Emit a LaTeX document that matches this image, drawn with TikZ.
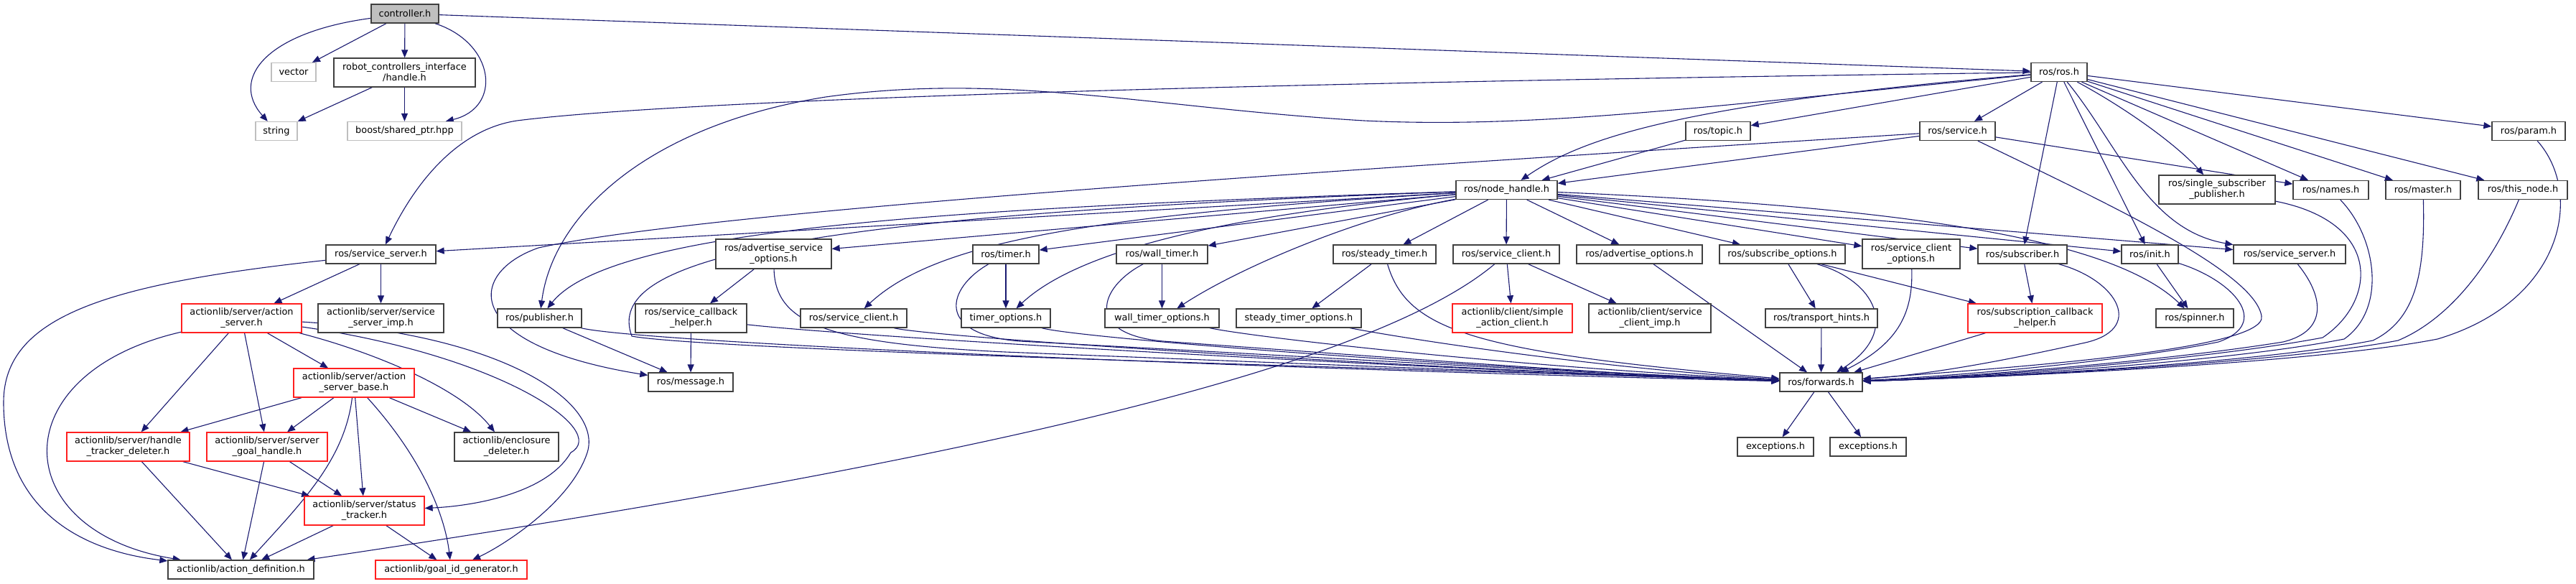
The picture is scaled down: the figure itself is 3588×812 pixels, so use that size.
\documentclass[tikz,border=0pt]{standalone}
\usepackage{fontspec}
\setmainfont{DejaVu Sans}
\usetikzlibrary{arrows.meta}
\definecolor{edgeblue}{HTML}{191970}
\definecolor{boxline}{HTML}{404040}
\definecolor{rootfill}{HTML}{BFBFBF}
\definecolor{extline}{HTML}{BFBFBF}
\definecolor{truncline}{HTML}{FF2020}
\pgfdeclarelayer{edges}
\pgfsetlayers{edges,main}
\begin{document}
\begin{tikzpicture}[x=1pt,y=-1pt]
\useasboundingbox (0,0) rectangle (3588,812);

\tikzstyle{hdr} = [draw=boxline, shape=rectangle, line width=1.3pt, fill=white, minimum height=26pt, inner sep=2pt, align=center, font=\fontsize{12.9}{15}\selectfont]
\tikzstyle{root} = [hdr, fill=rootfill]
\tikzstyle{ext} = [hdr, draw=extline]
\tikzstyle{trunc} = [hdr, draw=truncline]
\tikzstyle{dep} = [edgeblue, line width=1.1pt, -{Triangle[length=11pt,width=9pt]}]

% top rows
\node at (564,19) [root, minimum width=94pt] (controller) {controller.h};
\node at (409,100.5) [ext, minimum width=62pt] (vector) {vector};
\node at (563.5,101) [hdr, minimum width=197pt, minimum height=40pt] (rcihandle) {robot\_controllers\_interface\\/handle.h};
\node at (385,182.5) [ext, minimum width=58pt] (string) {string};
\node at (563.5,182.5) [ext, minimum width=159pt] (sharedptr) {boost/shared\_ptr.hpp};
\node at (2868,100.5) [hdr, minimum width=78pt] (ros) {ros/ros.h};
\node at (2393,182.5) [hdr, minimum width=90pt] (topic) {ros/topic.h};
\node at (2726.5,182.5) [hdr, minimum width=105pt] (service) {ros/service.h};
\node at (3522,182.5) [hdr, minimum width=102pt] (param) {ros/param.h};
\node at (2098.5,264.5) [hdr, minimum width=141pt] (nodehandle) {ros/node\_handle.h};
\node at (3088,264) [hdr, minimum width=162pt, minimum height=40pt] (singlesub) {ros/single\_subscriber\\\_publisher.h};
\node at (3246.5,264.5) [hdr, minimum width=105pt] (names) {ros/names.h};
\node at (3375,264.5) [hdr, minimum width=104pt] (master) {ros/master.h};
\node at (3514,264.5) [hdr, minimum width=124pt] (thisnode) {ros/this\_node.h};

% headers under node_handle
\node at (530.5,354) [hdr, minimum width=153pt] (srvserverA) {ros/service\_server.h};
\node at (1077.5,353.5) [hdr, minimum width=161pt, minimum height=41pt] (advsrvopts) {ros/advertise\_service\\\_options.h};
\node at (1401,354) [hdr, minimum width=92pt] (timer) {ros/timer.h};
\node at (1618.5,354) [hdr, minimum width=127pt] (walltimer) {ros/wall\_timer.h};
\node at (1928.5,354) [hdr, minimum width=143pt] (steadytimer) {ros/steady\_timer.h};
\node at (2098,354) [hdr, minimum width=148pt] (srvclientA) {ros/service\_client.h};
\node at (2283.5,354) [hdr, minimum width=175pt] (advopts) {ros/advertise\_options.h};
\node at (2482.5,354) [hdr, minimum width=175pt] (subopts) {ros/subscribe\_options.h};
\node at (2662,353.5) [hdr, minimum width=136pt, minimum height=41pt] (srvclientopts) {ros/service\_client\\\_options.h};
\node at (2817,354) [hdr, minimum width=124pt] (subscriber) {ros/subscriber.h};
\node at (2994.5,354) [hdr, minimum width=79pt] (init) {ros/init.h};
\node at (3189,354) [hdr, minimum width=156pt] (srvserverB) {ros/service\_server.h};

\node at (336.5,443) [trunc, minimum width=167pt, minimum height=40pt] (actionserver) {actionlib/server/action\\\_server.h};
\node at (530.5,443) [hdr, minimum width=175pt, minimum height=40pt] (srvserverimp) {actionlib/server/service\\\_server\_imp.h};
\node at (751.5,443) [hdr, minimum width=117pt] (publisher) {ros/publisher.h};
\node at (962.5,443) [hdr, minimum width=155pt, minimum height=40pt] (srvcbhelper) {ros/service\_callback\\\_helper.h};
\node at (1189,443) [hdr, minimum width=148pt] (srvclientB) {ros/service\_client.h};
\node at (1401,443) [hdr, minimum width=124pt] (timeropts) {timer\_options.h};
\node at (1618.5,443) [hdr, minimum width=159pt] (walltimeropts) {wall\_timer\_options.h};
\node at (1809,443) [hdr, minimum width=174pt] (steadytimeropts) {steady\_timer\_options.h};
\node at (2106.5,443) [trunc, minimum width=167pt, minimum height=40pt] (simpleclient) {actionlib/client/simple\\\_action\_client.h};
\node at (2298,443) [hdr, minimum width=170pt, minimum height=40pt] (clientimp) {actionlib/client/service\\\_client\_imp.h};
\node at (2537,443) [hdr, minimum width=156pt] (transport) {ros/transport\_hints.h};
\node at (2834.5,443) [trunc, minimum width=187pt, minimum height=40pt] (subcbhelper) {ros/subscription\_callback\\\_helper.h};
\node at (3057,443) [hdr, minimum width=108pt] (spinner) {ros/spinner.h};

\node at (493,533) [trunc, minimum width=168pt, minimum height=40pt] (actionserverbase) {actionlib/server/action\\\_server\_base.h};
\node at (962,532) [hdr, minimum width=118pt] (message) {ros/message.h};
\node at (2536.5,532) [hdr, minimum width=115pt] (forwards) {ros/forwards.h};

\node at (178.5,622) [trunc, minimum width=171pt, minimum height=40pt] (trackerdeleter) {actionlib/server/handle\\\_tracker\_deleter.h};
\node at (372,622) [trunc, minimum width=168pt, minimum height=40pt] (goalhandle) {actionlib/server/server\\\_goal\_handle.h};
\node at (705.5,622) [hdr, minimum width=145pt, minimum height=40pt] (enclosure) {actionlib/enclosure\\\_deleter.h};
\node at (2473,622) [hdr, minimum width=106pt] (exceptionsA) {exceptions.h};
\node at (2602,622) [hdr, minimum width=106pt] (exceptionsB) {exceptions.h};
\node at (507.5,711) [trunc, minimum width=167pt, minimum height=40pt] (statustracker) {actionlib/server/status\\\_tracker.h};
\node at (335.5,793) [hdr, minimum width=203pt] (actiondef) {actionlib/action\_definition.h};
\node at (628.5,793) [trunc, minimum width=211pt] (goalid) {actionlib/goal\_id\_generator.h};

\begin{pgfonlayer}{edges}
\fill[white] (0,0) rectangle (3588,812);

% controller.h
\draw[dep] (controller) .. controls (370,45) and (320,110) .. (string);
\draw[dep] (controller) -- (vector);
\draw[dep] (controller) -- (rcihandle);
\draw[dep] (controller) .. controls (690,60) and (700,150) .. (sharedptr);
\draw[dep] (controller) -- (ros);
\draw[dep] (rcihandle) -- (string);
\draw[dep] (rcihandle) -- (sharedptr);

% ros.h
\draw[dep] (ros) .. controls (1500,118) and (900,145) .. (720,168) .. controls (640,180) and (580,250) .. (srvserverA);
\draw[dep] (ros) .. controls (2400,145) and (2150,180) .. (1900,168) .. controls (1600,150) and (1400,100) .. (1150,135) .. controls (900,175) and (770,300) .. (publisher);
\draw[dep] (ros) -- (topic);
\draw[dep] (ros) .. controls (2330,145) and (2200,195) .. (nodehandle);
\draw[dep] (ros) -- (service);
\draw[dep] (ros) -- (subscriber);
\draw[dep] (ros) -- (init);
\draw[dep] (ros) .. controls (2960,150) and (3030,200) .. (singlesub);
\draw[dep] (ros) -- (names);
\draw[dep] (ros) -- (master);
\draw[dep] (ros) -- (thisnode);
\draw[dep] (ros) -- (param);
\draw[dep] (ros) .. controls (2950,200) and (2990,320) .. (srvserverB);
\draw[dep] (topic) -- (nodehandle);
\draw[dep] (service) -- (nodehandle);
\draw[dep] (service) -- (names);
\draw[dep] (service) .. controls (2950,290) and (3140,380) .. (3150,440) .. controls (3160,490) and (2750,515) .. (forwards);
\draw[dep] (service) .. controls (2000,228) and (1000,290) .. (750,345) .. controls (650,380) and (640,480) .. (message);

% node_handle.h
\draw[dep] (nodehandle) -- (srvserverA);
\draw[dep] (nodehandle) .. controls (1300,290) and (850,320) .. (publisher);
\draw[dep] (nodehandle) -- (advsrvopts);
\draw[dep] (nodehandle) .. controls (1500,300) and (1300,340) .. (srvclientB);
\draw[dep] (nodehandle) -- (timer);
\draw[dep] (nodehandle) .. controls (1700,300) and (1500,350) .. (timeropts);
\draw[dep] (nodehandle) -- (walltimer);
\draw[dep] (nodehandle) .. controls (1900,300) and (1730,370) .. (walltimeropts);
\draw[dep] (nodehandle) -- (steadytimer);
\draw[dep] (nodehandle) -- (srvclientA);
\draw[dep] (nodehandle) -- (advopts);
\draw[dep] (nodehandle) -- (subopts);
\draw[dep] (nodehandle) -- (srvclientopts);
\draw[dep] (nodehandle) -- (subscriber);
\draw[dep] (nodehandle) -- (init);
\draw[dep] (nodehandle) -- (srvserverB);
\draw[dep] (nodehandle) .. controls (2700,290) and (2950,340) .. (spinner);
\draw[dep] (nodehandle) .. controls (1100,300) and (840,360) .. (880,468) .. controls (1000,490) and (2200,520) .. (forwards);

% down to ros/forwards.h
\draw[dep] (advsrvopts) -- (srvcbhelper);
\draw[dep] (advsrvopts) .. controls (1080,450) and (1150,478) .. (1400,490) .. controls (1900,510) and (2300,525) .. (forwards);
\draw[dep] (publisher) -- (message);
\draw[dep] (publisher) .. controls (900,478) and (1800,515) .. (forwards);
\draw[dep] (srvcbhelper) -- (message);
\draw[dep] (srvcbhelper) .. controls (1200,470) and (2000,515) .. (forwards);
\draw[dep] (srvclientB) .. controls (1300,470) and (2000,515) .. (forwards);
\draw[dep] (timer) -- (timeropts);
\draw[dep] (timer) .. controls (1320,400) and (1300,465) .. (1420,475) .. controls (1800,495) and (2300,525) .. (forwards);
\draw[dep] (timeropts) .. controls (1500,470) and (2000,510) .. (forwards);
\draw[dep] (walltimer) -- (walltimeropts);
\draw[dep] (walltimer) .. controls (1530,400) and (1510,465) .. (1620,475) .. controls (1900,495) and (2300,525) .. (forwards);
\draw[dep] (walltimeropts) .. controls (1750,470) and (2100,510) .. (forwards);
\draw[dep] (steadytimer) -- (steadytimeropts);
\draw[dep] (steadytimer) .. controls (1960,460) and (2050,490) .. (forwards);
\draw[dep] (steadytimeropts) .. controls (1950,470) and (2200,510) .. (forwards);
\draw[dep] (srvclientA) -- (simpleclient);
\draw[dep] (srvclientA) -- (clientimp);
\draw[dep] (srvclientA) .. controls (1900,520) and (1300,650) .. (actiondef);
\draw[dep] (advopts) -- (forwards);
\draw[dep] (subopts) -- (transport);
\draw[dep] (subopts) -- (subcbhelper);
\draw[dep] (subopts) .. controls (2610,390) and (2650,460) .. (forwards);
\draw[dep] (srvclientopts) .. controls (2665,440) and (2640,480) .. (forwards);
\draw[dep] (subscriber) -- (subcbhelper);
\draw[dep] (subscriber) .. controls (2950,390) and (2990,460) .. (2900,478) .. controls (2800,500) and (2700,520) .. (forwards);
\draw[dep] (subcbhelper) -- (forwards);
\draw[dep] (transport) -- (forwards);
\draw[dep] (forwards) -- (exceptionsA);
\draw[dep] (forwards) -- (exceptionsB);
\draw[dep] (init) -- (spinner);
\draw[dep] (init) .. controls (3110,390) and (3165,450) .. (3090,476) .. controls (2950,505) and (2700,525) .. (forwards);
\draw[dep] (srvserverB) .. controls (3235,410) and (3245,460) .. (3180,476) .. controls (3000,505) and (2700,527) .. (forwards);
\draw[dep] (singlesub) .. controls (3320,310) and (3310,420) .. (3235,470) .. controls (3050,505) and (2700,528) .. (forwards);
\draw[dep] (names) .. controls (3310,330) and (3325,430) .. (3265,472) .. controls (3080,508) and (2700,528) .. (forwards);
\draw[dep] (master) .. controls (3378,380) and (3365,445) .. (3305,474) .. controls (3120,510) and (2700,528) .. (forwards);
\draw[dep] (thisnode) .. controls (3470,370) and (3410,445) .. (3340,474) .. controls (3150,510) and (2700,528) .. (forwards);
\draw[dep] (param) .. controls (3600,270) and (3570,420) .. (3395,472) .. controls (3200,510) and (2700,528) .. (forwards);

% actionlib
\draw[dep] (srvserverA) -- (actionserver);
\draw[dep] (srvserverA) -- (srvserverimp);
\draw[dep] (srvserverA) .. controls (150,395) and (5,440) .. (5,560) .. controls (5,700) and (100,765) .. (actiondef);
\draw[dep] (actionserver) -- (trackerdeleter);
\draw[dep] (actionserver) -- (goalhandle);
\draw[dep] (actionserver) -- (actionserverbase);
\draw[dep] (actionserver) .. controls (0,520) and (10,740) .. (actiondef);
\draw[dep] (actionserver) .. controls (520,490) and (640,540) .. (enclosure);
\draw[dep] (actionserver) .. controls (700,495) and (850,600) .. (795,630) .. controls (760,690) and (650,705) .. (statustracker);
\draw[dep] (actionserver) .. controls (700,465) and (840,560) .. (818,630) .. controls (795,700) and (700,760) .. (goalid);
\draw[dep] (actionserverbase) -- (trackerdeleter);
\draw[dep] (actionserverbase) -- (goalhandle);
\draw[dep] (actionserverbase) .. controls (480,640) and (420,700) .. (actiondef);
\draw[dep] (actionserverbase) -- (statustracker);
\draw[dep] (actionserverbase) .. controls (590,640) and (620,720) .. (goalid);
\draw[dep] (actionserverbase) -- (enclosure);
\draw[dep] (trackerdeleter) -- (actiondef);
\draw[dep] (trackerdeleter) -- (statustracker);
\draw[dep] (goalhandle) -- (actiondef);
\draw[dep] (goalhandle) -- (statustracker);
\draw[dep] (statustracker) -- (actiondef);
\draw[dep] (statustracker) -- (goalid);
\end{pgfonlayer}
\end{tikzpicture}
\end{document}
